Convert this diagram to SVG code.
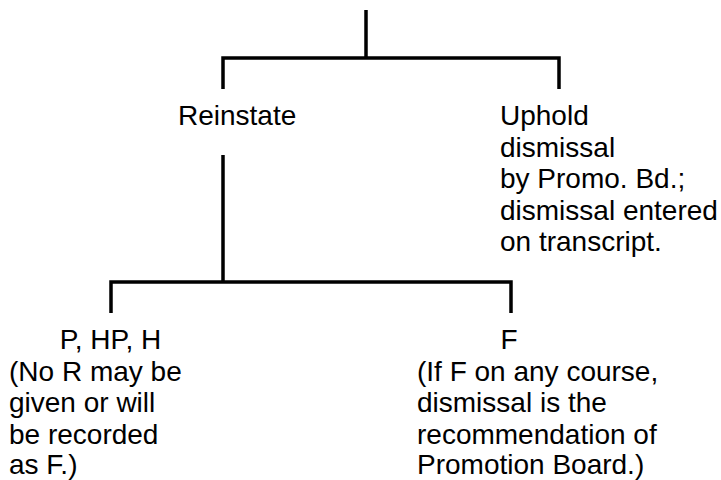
<svg xmlns="http://www.w3.org/2000/svg" width="721" height="480" viewBox="0 0 721 480">
<style>
.c{fill:none;stroke:#000;stroke-width:3.5;stroke-linejoin:miter;stroke-linecap:butt}
text{font-family:"Liberation Sans",Arial,Helvetica,sans-serif;font-size:28px;fill:#000}
.m{text-anchor:middle}
</style>
<rect width="721" height="480" fill="#fff"/>
<g id="connectors">
<path class="c" d="M366 10V58M223 89V58H559V89"/>
<path class="c" d="M223 155V282M111 313V282H511V313"/>
</g>
<g id="reinstate"><text x="178" y="125">Reinstate</text></g>
<g id="uphold">
<text x="500" y="125">Uphold</text>
<text x="500" y="156.5">dismissal</text>
<text x="500" y="188">by Promo. Bd.;</text>
<text x="500" y="219.5">dismissal entered</text>
<text x="500" y="251">on transcript.</text>
</g>
<g id="php">
<text class="m" x="110.5" y="349">P, HP, H</text>
<text x="9" y="380.5">(No R may be</text>
<text x="9" y="412">given or will</text>
<text x="9" y="443.5">be recorded</text>
<text x="9" y="474">as F.)</text>
</g>
<g id="f">
<text class="m" x="509" y="349">F</text>
<text x="417" y="380.5">(If F on any course,</text>
<text x="417" y="412">dismissal is the</text>
<text x="417" y="443.5">recommendation of</text>
<text x="417" y="474">Promotion Board.)</text>
</g>
</svg>
